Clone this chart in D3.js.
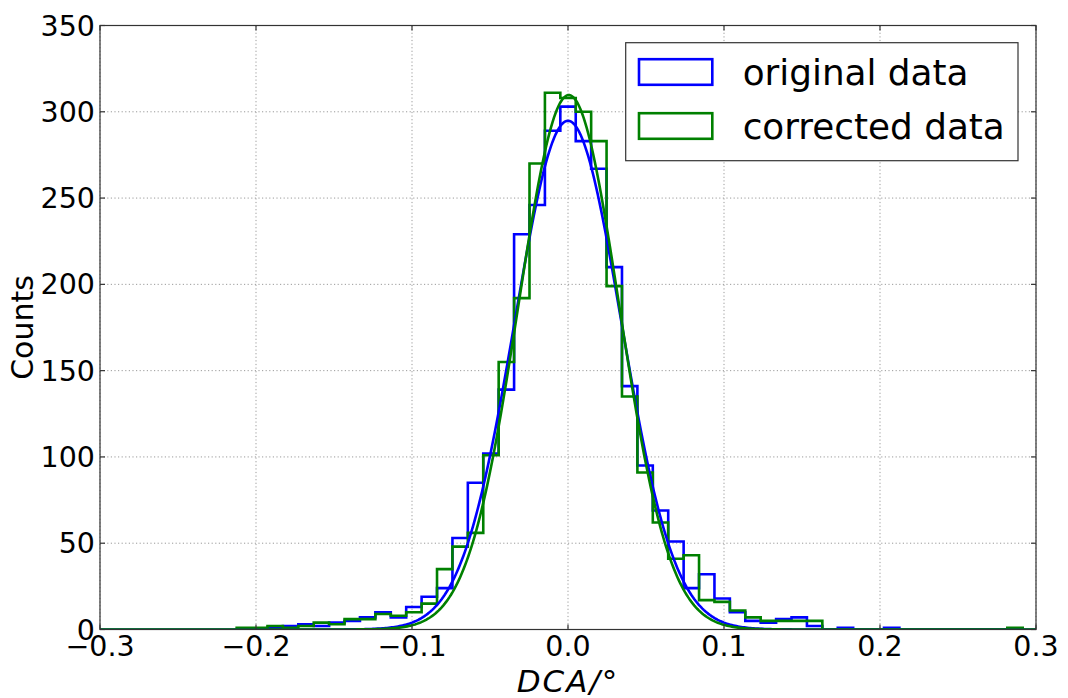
<!DOCTYPE html>
<html>
<head>
<meta charset="utf-8">
<script src="https://cdn.jsdelivr.net/npm/d3@7"></script>
<style>
  html, body { margin: 0; padding: 0; background: #fff; }
  svg { display: block; }
  text { font-family: "DejaVu Sans", sans-serif; fill: #000; }
</style>
</head>
<body>
<svg id="chart" width="1068" height="698"></svg>
<script>
// Histogram binning (DCA in degrees)
const binStart = -0.2124;
const binWidth = 0.00988;

// Counts per bin, original data
const originalCounts = [
  0, 0, 1, 2, 3, 2, 4, 5, 7, 10, 7, 13, 19, 24, 53, 85, 102, 139, 229, 246, 289,
  303, 283, 267, 210, 141, 95, 69, 51, 24, 32, 18, 10, 5, 4, 6, 7, 2, 0, 1, 0,
  0, 1, 0, 0, 0, 0, 0, 0, 0, 0
];

// Counts per bin, corrected data
const correctedCounts = [
  1, 1, 2, 1, 2, 4, 3, 6, 6, 9, 8, 10, 15, 35, 48, 56, 101, 155, 192, 270, 311,
  308, 300, 283, 199, 135, 91, 62, 41, 43, 17, 16, 11, 7, 5, 5, 5, 5, 0, 0, 0,
  0, 0, 0, 0, 0, 0, 0, 0, 0, 1
];

// Gaussian fit parameters: [amplitude, mean, sigma]
const originalFit = [294.8, 0.0, 0.0341];
const correctedFit = [309.7, 0.0005, 0.0323];

// Axis ticks
const xTicks = [-0.3, -0.2, -0.1, 0.0, 0.1, 0.2, 0.3];
const yTicks = [0, 50, 100, 150, 200, 250, 300, 350];

const seriesNames = ["original data", "corrected data"];
const seriesColors = ["#0000ff", "#008000"];

const svg = d3.select("#chart");
const plot = { left: 100, right: 1036, top: 25.5, bottom: 629.5 };

const x = d3.scaleLinear().domain([-0.3, 0.3]).range([plot.left, plot.right]);
const y = d3.scaleLinear().domain([0, 350]).range([plot.bottom, plot.top]);

const fmtX = d3.format(".1f");
const minus = s => s.replace("-", "\u2212");

// Grid
const grid = svg.append("g").attr("class", "grid");
grid.selectAll("line.gx").data(xTicks).join("line")
  .attr("x1", d => x(d)).attr("x2", d => x(d))
  .attr("y1", plot.top).attr("y2", plot.bottom)
  .attr("stroke", "#9a9a9a").attr("stroke-width", 1).attr("stroke-dasharray", "1.2,2.4");
grid.selectAll("line.gy").data(yTicks).join("line")
  .attr("x1", plot.left).attr("x2", plot.right)
  .attr("y1", d => y(d)).attr("y2", d => y(d))
  .attr("stroke", "#9a9a9a").attr("stroke-width", 1).attr("stroke-dasharray", "1.2,2.4");

// Clip to plot area
svg.append("clipPath").attr("id", "clip").append("rect")
  .attr("x", plot.left).attr("y", plot.top)
  .attr("width", plot.right - plot.left).attr("height", plot.bottom - plot.top);

const marks = svg.append("g").attr("clip-path", "url(#clip)");

// Step outline of a histogram
function stepPath(counts) {
  const edges = d3.range(counts.length + 1).map(i => binStart + i * binWidth);
  const pts = [[edges[0], 0]];
  counts.forEach((c, i) => {
    pts.push([edges[i], c]);
    pts.push([edges[i + 1], c]);
  });
  pts.push([edges[counts.length], 0]);
  return d3.line().x(d => x(d[0])).y(d => y(d[1]))(pts);
}

[originalCounts, correctedCounts].forEach((counts, i) => {
  marks.append("path")
    .attr("d", stepPath(counts))
    .attr("fill", "none")
    .attr("stroke", seriesColors[i])
    .attr("stroke-width", 2.6)
    .attr("stroke-linejoin", "miter");
});

// Fitted Gaussian curves
const xs = d3.range(-0.3, 0.3001, 0.001);
[originalFit, correctedFit].forEach((p, i) => {
  const [a, mu, s] = p;
  const line = d3.line()
    .x(d => x(d))
    .y(d => y(a * Math.exp(-((d - mu) ** 2) / (2 * s * s))));
  marks.append("path")
    .attr("d", line(xs))
    .attr("fill", "none")
    .attr("stroke", seriesColors[i])
    .attr("stroke-width", 2.6);
});

// Frame
svg.append("rect")
  .attr("x", plot.left).attr("y", plot.top)
  .attr("width", plot.right - plot.left).attr("height", plot.bottom - plot.top)
  .attr("fill", "none").attr("stroke", "#333").attr("stroke-width", 1.2);

// Inward tick marks on all sides
const tk = svg.append("g").attr("stroke", "#333").attr("stroke-width", 1.2);
xTicks.forEach(t => {
  tk.append("line").attr("x1", x(t)).attr("x2", x(t)).attr("y1", plot.bottom).attr("y2", plot.bottom - 5);
  tk.append("line").attr("x1", x(t)).attr("x2", x(t)).attr("y1", plot.top).attr("y2", plot.top + 5);
});
yTicks.forEach(t => {
  tk.append("line").attr("x1", plot.left).attr("x2", plot.left + 5).attr("y1", y(t)).attr("y2", y(t));
  tk.append("line").attr("x1", plot.right).attr("x2", plot.right - 5).attr("y1", y(t)).attr("y2", y(t));
});

// Tick labels
svg.append("g").selectAll("text").data(xTicks).join("text")
  .attr("x", d => x(d)).attr("y", 656)
  .attr("text-anchor", "middle").attr("font-size", 28.5)
  .text(d => minus(fmtX(d)));

svg.append("g").selectAll("text").data(yTicks).join("text")
  .attr("x", 95).attr("y", d => y(d) + 10)
  .attr("text-anchor", "end").attr("font-size", 28.5)
  .text(d => d);

// Axis titles
svg.append("text")
  .attr("transform", `translate(33,${(plot.top + plot.bottom) / 2}) rotate(-90)`)
  .attr("text-anchor", "middle").attr("font-size", 30)
  .text("Counts");

svg.append("text")
  .attr("x", 568).attr("y", 692)
  .attr("text-anchor", "middle")
  .attr("font-family", "'Liberation Serif', serif")
  .attr("font-style", "italic").attr("font-size", 31)
  .attr("letter-spacing", 2)
  .text("DCA/\u00b0");

// Legend
const lg = svg.append("g");
lg.append("rect")
  .attr("x", 625.7).attr("y", 42.7).attr("width", 392.3).attr("height", 118)
  .attr("fill", "#fff").attr("stroke", "#333").attr("stroke-width", 1.2);
seriesNames.forEach((name, i) => {
  const cy = 72 + i * 54;
  lg.append("rect")
    .attr("x", 639).attr("y", cy - 12.8).attr("width", 73.3).attr("height", 25.6)
    .attr("fill", "none").attr("stroke", seriesColors[i]).attr("stroke-width", 2.6);
  lg.append("text")
    .attr("x", 742.7).attr("y", cy + 12.5)
    .attr("font-size", 35.8)
    .text(name);
});
</script>
</body>
</html>
